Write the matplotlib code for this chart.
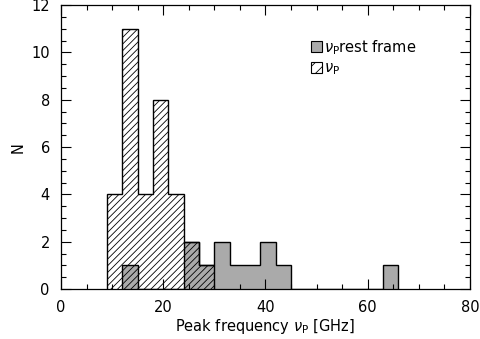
import matplotlib
matplotlib.use("Agg")
import matplotlib.pyplot as plt
from matplotlib.patches import Patch
import numpy as np

plt.rcParams['font.family'] = ['DejaVu Sans']
plt.rcParams['hatch.linewidth'] = 0.6
plt.rcParams['mathtext.fontset'] = 'dejavusans'

# Observed peak frequency histogram (hatched)
obs_edges = [9, 12, 15, 18, 21, 24, 27, 30]
obs_counts = [4, 11, 4, 8, 4, 2, 1]

# Rest-frame peak frequency histogram (gray)
rest_edges = [12, 15, 18, 21, 24, 27, 30, 33, 36, 39, 42, 45, 48, 51, 54, 57, 60, 63, 66]
rest_counts = [1, 0, 0, 0, 2, 1, 2, 1, 1, 2, 1, 0, 0, 0, 0, 0, 0, 1]

gray = '#aaaaaa'

fig = plt.figure(figsize=(4.8, 3.39), dpi=100)
ax = fig.add_axes([0.127, 0.147, 0.852, 0.838])

ax.stairs(rest_counts, rest_edges, fill=True, color=gray, zorder=1)
ax.stairs(rest_counts, rest_edges, color='black', linewidth=1.0, zorder=3)
ax.stairs(obs_counts, obs_edges, fill=True, facecolor='none', edgecolor='black',
          hatch='/////', linewidth=0, zorder=2)
ax.stairs(obs_counts, obs_edges, color='black', linewidth=1.0, zorder=3)

ax.set_xlim(0, 80)
ax.set_ylim(0, 12)
ax.set_xticks([0, 20, 40, 60, 80])
ax.set_xticks(np.arange(0, 81, 5), minor=True)
ax.set_yticks([0, 2, 4, 6, 8, 10, 12])
ax.set_yticks(np.arange(0, 12.01, 0.5), minor=True)
ax.tick_params(which='both', direction='in', top=True, right=True, labelsize=10.5,
               colors='black', pad=8)
ax.tick_params(which='major', length=7, width=0.8)
ax.tick_params(which='minor', length=3.5, width=0.8)
for s in ax.spines.values():
    s.set_linewidth(0.9)

ax.set_xlabel(r'Peak frequency $\nu_{\rm P}$ [GHz]', fontsize=10.5, labelpad=1)
ax.set_ylabel('N', fontsize=10.5, labelpad=4)

handles = [Patch(facecolor=gray, edgecolor='black', linewidth=0.8),
           Patch(facecolor='none', edgecolor='black', hatch='///', linewidth=0.8)]
labels = [r'$\nu_{\rm P}$rest frame', r'$\nu_{\rm P}$']
ax.legend(handles, labels, loc='upper left', bbox_to_anchor=(0.597, 0.905), frameon=False,
          handlelength=0.75, handleheight=0.75, handletextpad=0.15, labelspacing=0.25,
          fontsize=10.5, borderaxespad=0)

fig.savefig('out.png', dpi=100)
